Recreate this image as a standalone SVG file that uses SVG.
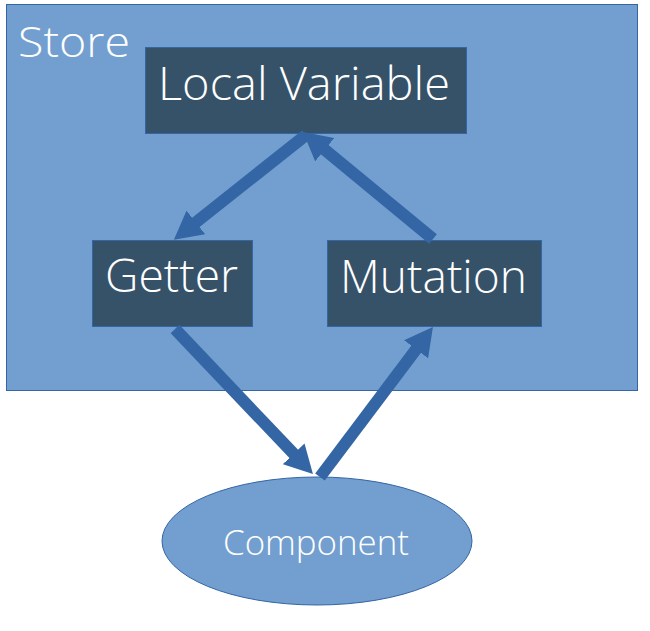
<svg xmlns="http://www.w3.org/2000/svg" width="650" height="631" viewBox="0 0 650 631">
<style>
.bg{fill:#ffffff}
.store{fill:#729fcf;stroke:#3465a4;stroke-width:1}
.box{fill:#355269;stroke:#3465a4;stroke-width:1}
.ell{fill:#729fcf;stroke:#3465a4;stroke-width:1}
.t{fill:#ffffff;font-family:"Open Sans","Noto Sans","DejaVu Sans",sans-serif;font-weight:300}
.big{font-size:46px}
.conn{stroke:#3465a4;stroke-width:12;fill:none;stroke-linecap:butt}
</style>
<defs>
<marker id="ah" viewBox="0 0 28 30" markerUnits="userSpaceOnUse" markerWidth="28" markerHeight="30" refX="4" refY="15" orient="auto">
<path d="M0,0 L28,15 L0,30 z" fill="#3465a4"/>
</marker>
</defs>
<rect class="bg" x="0" y="0" width="650" height="631"/>
<g id="store">
<rect class="store" x="6.5" y="4.5" width="631" height="386"/>
<text class="t" x="18" y="57" font-size="42" textLength="112" lengthAdjust="spacingAndGlyphs">Store</text>
</g>
<g id="local-variable">
<rect class="box" x="145.5" y="47.5" width="321" height="86"/>
<text class="t big" x="304" y="100" text-anchor="middle" textLength="292" lengthAdjust="spacingAndGlyphs">Local Variable</text>
</g>
<g id="getter">
<rect class="box" x="92.5" y="240.5" width="160" height="86"/>
<text class="t big" x="171.5" y="292" text-anchor="middle" textLength="133" lengthAdjust="spacingAndGlyphs">Getter</text>
</g>
<g id="mutation">
<rect class="box" x="327.5" y="240.5" width="214" height="86"/>
<text class="t big" x="433.5" y="293" text-anchor="middle" textLength="187" lengthAdjust="spacingAndGlyphs">Mutation</text>
</g>
<g id="component">
<ellipse class="ell" cx="317" cy="541" rx="155" ry="64"/>
<text class="t" x="316" y="555" font-size="34" text-anchor="middle" textLength="186" lengthAdjust="spacingAndGlyphs">Component</text>
</g>
<g id="connectors">
<line class="conn" x1="306" y1="135" x2="192.7" y2="224.9" marker-end="url(#ah)"/>
<line class="conn" x1="433" y1="239" x2="321.6" y2="147.2" marker-end="url(#ah)"/>
<line class="conn" x1="175" y1="329" x2="296.4" y2="456.7" marker-end="url(#ah)"/>
<line class="conn" x1="320" y1="477" x2="418.5" y2="346.1" marker-end="url(#ah)"/>
</g>
</svg>
